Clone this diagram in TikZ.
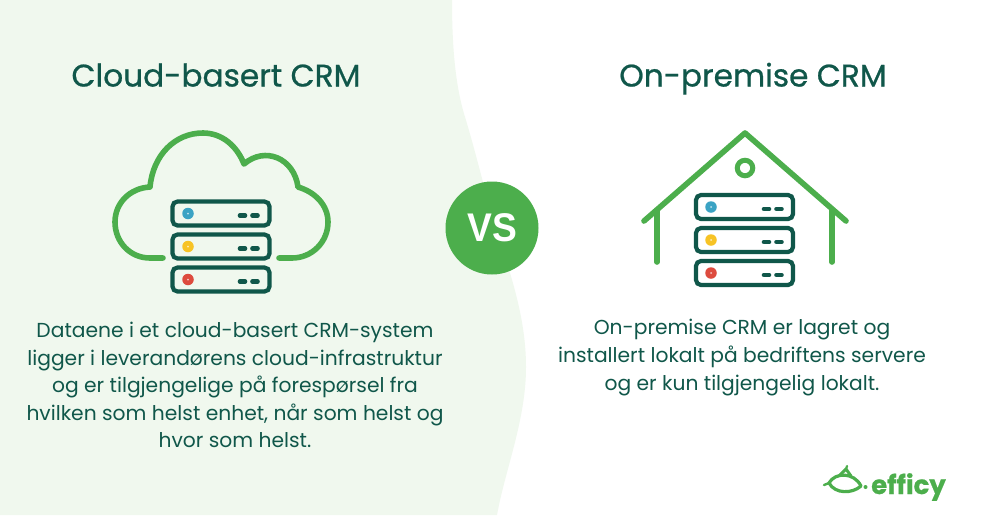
\documentclass[tikz,border=0pt]{standalone}
\usepackage{fontspec}
\setmainfont{Poppins}
\newfontfamily\headfont[FakeBold=0.7]{Poppins}
\newfontfamily\badgefont[FakeStretch=0.93]{Liberation Sans}
\definecolor{leaf}{HTML}{4CAE4C}
\definecolor{pine}{HTML}{10574A}
\definecolor{mist}{HTML}{F0F8EE}
\definecolor{ledblue}{HTML}{3BA3C4}
\definecolor{ledyellow}{HTML}{F7C325}
\definecolor{ledred}{HTML}{DD4B3E}
\tikzset{
  heading/.style={text=pine,inner sep=0pt,anchor=base,font=\headfont\fontsize{31.2}{36}\selectfont},
  bodytext/.style={text=pine,inner sep=0pt,align=center,font=\fontsize{20.25}{27.6}\selectfont},
  rack/.style={draw=pine,line width=4.2pt,rounded corners=5pt,minimum width=97pt,minimum height=24pt,inner sep=0pt},
  led/.style={circle,minimum size=11.5pt,inner sep=0pt},
  slot/.style={draw=pine,line width=4.6pt,line cap=round},
  outline/.style={draw=leaf,line width=5.6pt,line cap=round,line join=round},
}
\begin{document}
\begin{tikzpicture}[x=1pt,y=-1pt]
  \useasboundingbox (0,0) rectangle (984,515);
  \fill[white] (0,0) rectangle (984,515);
  % left panel
  \fill[mist] (0,0) -- (452,0) .. controls (452,45) and (455,85) .. (465,117)
    .. controls (475,150) and (482,180) .. (492,215)
    .. controls (505,260) and (526,310) .. (526,367)
    .. controls (526,420) and (505,470) .. (497,515) -- (0,515) -- cycle;
  % titles
  \node[heading] (cloudtitle) at (216,86.5) {Cloud-basert CRM};
  \node[heading] (premtitle) at (753,86.5) {On-premise CRM};
  % cloud
  \draw[outline] (163,258) -- (150,258) .. controls (130,258) and (115,242) .. (115,222)
    .. controls (115,203) and (130,188) .. (150,187)
    .. controls (153,155) and (175,133) .. (203,133)
    .. controls (222,133) and (237,146) .. (244,164)
    .. controls (265,146) and (294,158) .. (298,187)
    .. controls (315,192) and (328,205) .. (328,222)
    .. controls (328,242) and (312,258) .. (292,258) -- (279,258);
  \foreach \name/\ypos/\col in {a/213.5/ledblue,b/246.5/ledyellow,c/279.5/ledred}{
    \node[rack] (cloud\name) at (221,\ypos) {};
    \node[led,fill=\col] (cloudled\name) at (188,\ypos) {};
    \fill[white!70!\col] (cloudled\name) circle (1);
    \draw[slot] (240,\ypos+2) -- (245,\ypos+2);
    \draw[slot] (252.5,\ypos+2) -- (257.5,\ypos+2);
  }
  % house
  \draw[outline] (644,221) -- (745,133) -- (846,221);
  \draw[outline] (657,210) -- (657,262);
  \draw[outline] (832,210) -- (832,262);
  \node[circle,draw=leaf,line width=5pt,minimum size=15.5pt,inner sep=0pt] (housering) at (745,168) {};
  \foreach \name/\ypos/\col in {a/207/ledblue,b/240/ledyellow,c/273/ledred}{
    \node[rack] (prem\name) at (744.5,\ypos) {};
    \node[led,fill=\col] (premled\name) at (711,\ypos) {};
    \fill[white!70!\col] (premled\name) circle (1);
    \draw[slot] (764,\ypos+2) -- (769,\ypos+2);
    \draw[slot] (776.5,\ypos+2) -- (781.5,\ypos+2);
  }
  % vs badge
  \node[circle,fill=leaf,minimum size=93pt,inner sep=0pt,text=white,font=\badgefont\bfseries\fontsize{40}{42}\selectfont] (vs) at (492,228) {VS};
  % texts
  \node[bodytext] (clouddesc) at (235,385) {Dataene i et cloud-basert CRM-system\\ligger i leverandørens cloud-infrastruktur\\og er tilgjengelige på forespørsel fra\\hvilken som helst enhet, når som helst og\\hvor som helst.};
  \node[bodytext] (premdesc) at (742,357.5) {On-premise CRM er lagret og\\installert lokalt på bedriftens servere\\og er kun tilgjengelig lokalt.};
  % logo
  \draw[leaf,line width=3.2pt,line join=round] (829,483) .. controls (835,472) and (854,472) .. (861,486)
    .. controls (852,494) and (835,494) .. (829,483) -- cycle;
  \draw[leaf,line width=3pt,line cap=round,line join=round] (840,475) -- (846,469) -- (851,476);
  \draw[leaf,line width=2.2pt,line cap=round] (846,469) -- (847,466);
  \draw[leaf,line width=2.4pt,line cap=round] (829,483) -- (824,485);
  \fill[leaf] (865.5,487) circle (2);
  \node[text=leaf,inner sep=0pt,anchor=base west,font=\headfont\fontsize{26}{28}\selectfont\bfseries] (logo) at (871,494) {efficy};
\end{tikzpicture}
\end{document}
